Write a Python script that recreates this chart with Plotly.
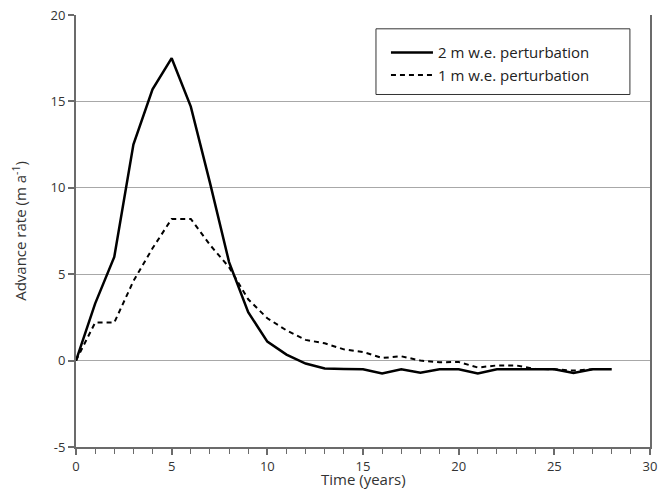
import plotly.graph_objects as go

years_2m = list(range(0, 29))
rate_2m = [0, 3.3, 6.0, 12.5, 15.7, 17.5, 14.7, 10.3, 5.7, 2.8, 1.1, 0.35, -0.17, -0.46,
           -0.48, -0.5, -0.75, -0.5, -0.7, -0.5, -0.5, -0.75, -0.5, -0.5, -0.5, -0.5,
           -0.72, -0.5, -0.5]

years_1m = list(range(0, 28))
rate_1m = [0, 2.2, 2.2, 4.6, 6.5, 8.2, 8.2, 6.7, 5.4, 3.55, 2.45, 1.75, 1.2, 1.0,
           0.65, 0.5, 0.15, 0.25, 0.0, -0.1, -0.08, -0.4, -0.28, -0.28, -0.48, -0.5,
           -0.58, -0.5]

x_ticks = [0, 5, 10, 15, 20, 25, 30]
y_ticks = [-5, 0, 5, 10, 15, 20]
y_tick_text = ["-5", "0", "5", "10", "15", "20"]

font_family = "Open Sans, Liberation Sans, sans-serif"
axis_col = "#6b6b6b"
grid_col = "#a8a8a8"

fig = go.Figure()
fig.add_trace(go.Scatter(x=years_2m, y=rate_2m, mode="lines", name="2 m w.e. perturbation",
                         line=dict(color="black", width=2.5)))
fig.add_trace(go.Scatter(x=years_1m, y=rate_1m, mode="lines", name="1 m w.e. perturbation",
                         line=dict(color="black", width=2, dash="5px,4px")))

# legend frame (wider than plotly's auto box, as in the reference)
fig.add_shape(type="rect", xref="paper", yref="paper",
              x0=0.5226, x1=0.965, y0=0.816, y1=0.968,
              line=dict(color="#333333", width=1), fillcolor="white", layer="below")

# x-axis title as an annotation for exact placement
fig.add_annotation(text="Time (years)", xref="paper", yref="paper", x=0.5, y=0,
                   xanchor="center", yanchor="middle", yshift=-32, showarrow=False,
                   borderpad=0, font=dict(size=15, color="#333333"))

fig.update_layout(
    width=670, height=490,
    margin=dict(l=76, r=20, t=15, b=43, autoexpand=False),
    paper_bgcolor="white", plot_bgcolor="white",
    font=dict(family=font_family, size=13, color="#333333"),
    showlegend=True,
    legend=dict(x=0.540, y=0.951, xanchor="left", yanchor="top",
                bgcolor="rgba(0,0,0,0)", borderwidth=0,
                font=dict(size=15, color="#222222"),
                tracegroupgap=0, itemwidth=42),
    xaxis=dict(range=[0, 30], tickvals=x_ticks, ticks="outside", ticklen=6,
               tickcolor=axis_col, tickwidth=1.5, automargin=False,
               tickfont=dict(size=13),
               minor=dict(dtick=1, ticks="outside", ticklen=5, tickcolor=axis_col, tickwidth=1),
               showline=True, linecolor=axis_col, linewidth=2,
               showgrid=False, zeroline=False),
    yaxis=dict(range=[-5, 20], tickvals=y_ticks, ticktext=y_tick_text,
               ticks="outside", ticklen=6, automargin=False,
               tickcolor=axis_col, tickwidth=1.5, tickfont=dict(size=13),
               showline=True, linecolor=axis_col, linewidth=2, mirror=True,
               showgrid=True, gridcolor=grid_col, gridwidth=1,
               zeroline=True, zerolinecolor=grid_col, zerolinewidth=1,
               title=dict(text="Advance rate (m a<sup>-1</sup>)", standoff=20, font=dict(size=15))),
)

fig.write_html("out.html")
